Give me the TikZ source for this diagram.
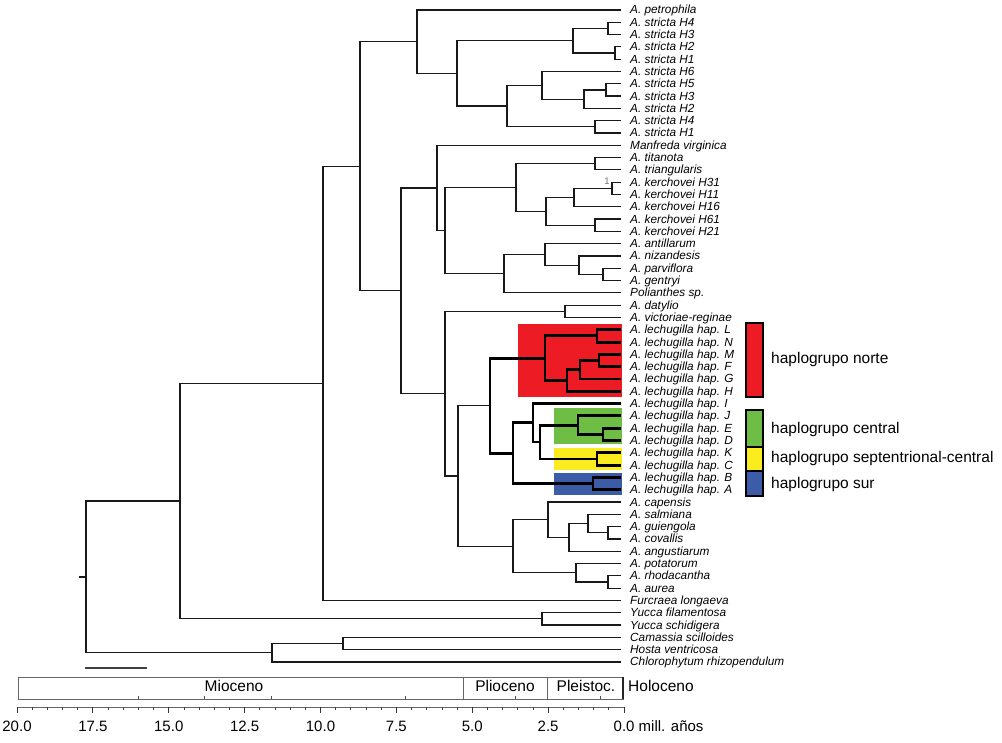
\documentclass[tikz,border=0pt]{standalone}
\usepackage{fontspec}
\setmainfont{Liberation Sans}
\definecolor{cred}{RGB}{237,28,36}
\definecolor{cgreen}{RGB}{110,190,70}
\definecolor{cyellow}{RGB}{250,236,30}
\definecolor{cblue}{RGB}{60,92,168}
\definecolor{linec}{RGB}{25,25,25}
\newcommand\leafnode[3]{\node[leaf] (#1) at (621,#2) {#3};}
\tikzset{
  br/.style={line width=1.2pt, draw=linec, line join=miter},
  thk/.style={line width=2.9pt, draw=black, line join=miter},
  leaf/.style={anchor=west, inner xsep=9pt, inner ysep=0pt, text height=8pt, text depth=0pt,
     font=\fontsize{11.8}{12}\selectfont\itshape},
  legtext/.style={anchor=west, inner sep=0pt, text height=11pt, text depth=0pt,
     font=\fontsize{15.5}{17}\selectfont},
  epoch/.style={anchor=base, inner sep=0pt, font=\fontsize{15.5}{17}\selectfont},
  ticklab/.style={anchor=base, inner sep=0pt, font=\fontsize{15}{17}\selectfont},
  legbox/.style={draw=black, line width=1.3pt}
}
\begin{document}
\begin{tikzpicture}[x=1pt,y=-1pt]
\useasboundingbox (0,0) rectangle (1002,743);
\fill[white] (0,0) rectangle (1002,743);
% coloured haplogroup backgrounds
\fill[cred] (518,324) rectangle (622,397);
\fill[cgreen] (554,408) rectangle (622,444);
\fill[cyellow] (554,448) rectangle (622,470);
\fill[cblue] (554,473) rectangle (622,495);
% leaves
\leafnode{L1}{10.0}{A. petrophila}
\leafnode{L2}{22.3}{A. stricta H4}
\leafnode{L3}{34.6}{A. stricta H3}
\leafnode{L4}{46.9}{A. stricta H2}
\leafnode{L5}{59.2}{A. stricta H1}
\leafnode{L6}{71.5}{A. stricta H6}
\leafnode{L7}{83.8}{A. stricta H5}
\leafnode{L8}{96.1}{A. stricta H3}
\leafnode{L9}{108.4}{A. stricta H2}
\leafnode{L10}{120.7}{A. stricta H4}
\leafnode{L11}{133.0}{A. stricta H1}
\leafnode{L12}{145.3}{Manfreda virginica}
\leafnode{L13}{157.6}{A. titanota}
\leafnode{L14}{169.9}{A. triangularis}
\leafnode{L15}{182.2}{A. kerchovei H31}
\leafnode{L16}{194.5}{A. kerchovei H11}
\leafnode{L17}{206.8}{A. kerchovei H16}
\leafnode{L18}{219.1}{A. kerchovei H61}
\leafnode{L19}{231.4}{A. kerchovei H21}
\leafnode{L20}{243.7}{A. antillarum}
\leafnode{L21}{256.0}{A. nizandesis}
\leafnode{L22}{268.3}{A. parviflora}
\leafnode{L23}{280.6}{A. gentryi}
\leafnode{L24}{292.9}{Polianthes sp.}
\leafnode{L25}{305.2}{A. datylio}
\leafnode{L26}{317.5}{A. victoriae-reginae}
\leafnode{L27}{329.8}{A. lechugilla hap. L}
\leafnode{L28}{342.1}{A. lechugilla hap. N}
\leafnode{L29}{354.4}{A. lechugilla hap. M}
\leafnode{L30}{366.7}{A. lechugilla hap. F}
\leafnode{L31}{379.0}{A. lechugilla hap. G}
\leafnode{L32}{391.3}{A. lechugilla hap. H}
\leafnode{L33}{403.6}{A. lechugilla hap. I}
\leafnode{L34}{415.9}{A. lechugilla hap. J}
\leafnode{L35}{428.2}{A. lechugilla hap. E}
\leafnode{L36}{440.5}{A. lechugilla hap. D}
\leafnode{L37}{452.8}{A. lechugilla hap. K}
\leafnode{L38}{465.1}{A. lechugilla hap. C}
\leafnode{L39}{477.4}{A. lechugilla hap. B}
\leafnode{L40}{489.7}{A. lechugilla hap. A}
\leafnode{L41}{502.0}{A. capensis}
\leafnode{L42}{514.3}{A. salmiana}
\leafnode{L43}{526.6}{A. guiengola}
\leafnode{L44}{538.9}{A. covallis}
\leafnode{L45}{551.2}{A. angustiarum}
\leafnode{L46}{563.5}{A. potatorum}
\leafnode{L47}{575.8}{A. rhodacantha}
\leafnode{L48}{588.1}{A. aurea}
\leafnode{L49}{600.4}{Furcraea longaeva}
\leafnode{L50}{612.7}{Yucca filamentosa}
\leafnode{L51}{625.0}{Yucca schidigera}
\leafnode{L52}{637.3}{Camassia scilloides}
\leafnode{L53}{649.6}{Hosta ventricosa}
\leafnode{L54}{661.9}{Chlorophytum rhizopendulum}
% internal nodes
\coordinate (sA) at (608,28.45);
\coordinate (sB) at (615,53.05);
\coordinate (sC) at (573,40.75);
\coordinate (sD) at (606,89.95);
\coordinate (sE) at (584,99.18);
\coordinate (sF) at (542,85.34);
\coordinate (sG) at (595,126.85);
\coordinate (sH) at (507,106.09);
\coordinate (sI) at (457,73.42);
\coordinate (pA) at (417,41.71);
\coordinate (tA) at (595,163.75);
\coordinate (kA) at (612,188.35);
\coordinate (kB) at (574,197.58);
\coordinate (kC) at (595,225.25);
\coordinate (kD) at (546,211.41);
\coordinate (tB) at (516,187.58);
\coordinate (aA) at (603,274.45);
\coordinate (aB) at (579,265.23);
\coordinate (aC) at (545,254.46);
\coordinate (aD) at (504,273.68);
\coordinate (mA) at (445,230.63);
\coordinate (mB) at (437,187.96);
\coordinate (dA) at (565,311.35);
\coordinate (lA) at (597,335.95);
\coordinate (lB) at (599,360.55);
\coordinate (lC) at (580,369.78);
\coordinate (lD) at (567,380.54);
\coordinate (lE) at (545,358.24);
\coordinate (lF) at (603,434.35);
\coordinate (lG) at (578,425.13);
\coordinate (lH) at (597,458.95);
\coordinate (lI) at (540,442.04);
\coordinate (lJ) at (533,422.82);
\coordinate (lK) at (593,483.55);
\coordinate (lL) at (513,453.19);
\coordinate (lM) at (490,405.71);
\coordinate (cA) at (608,532.75);
\coordinate (cB) at (588,523.53);
\coordinate (cC) at (569,537.36);
\coordinate (cD) at (548,519.68);
\coordinate (cE) at (608,581.95);
\coordinate (cF) at (576,572.73);
\coordinate (cG) at (513,546.2);
\coordinate (gA) at (458,475.96);
\coordinate (gB) at (445,393.66);
\coordinate (gC) at (401,290.81);
\coordinate (gD) at (360,166.26);
\coordinate (gE) at (323,383.33);
\coordinate (yA) at (542,618.85);
\coordinate (gF) at (180,501.09);
\coordinate (hA) at (343,643.45);
\coordinate (hB) at (272,652.68);
\coordinate (root) at (86,576.88);
\coordinate (stub) at (79,576.88);
% thin branches
\foreach \p/\c in {sA/L2,sA/L3,sB/L4,sB/L5,sC/sA,sC/sB,sD/L7,sD/L8,sE/sD,sE/L9,
  sF/L6,sF/sE,sG/L10,sG/L11,sH/sF,sH/sG,sI/sC,sI/sH,pA/L1,pA/sI,
  tA/L13,tA/L14,kA/L15,kA/L16,kB/kA,kB/L17,kC/L18,kC/L19,kD/kB,kD/kC,tB/tA,tB/kD,
  aA/L22,aA/L23,aB/L21,aB/aA,aC/L20,aC/aB,aD/aC,aD/L24,mA/tB,mA/aD,mB/L12,mB/mA,
  dA/L25,dA/L26,cA/L43,cA/L44,cB/L42,cB/cA,cC/cB,cC/L45,cD/L41,cD/cC,
  cE/L47,cE/L48,cF/L46,cF/cE,cG/cD,cG/cF,gA/lM,gA/cG,gB/dA,gB/gA,gC/mB,gC/gB,
  gD/pA,gD/gC,gE/gD,gE/L49,yA/L50,yA/L51,gF/gE,gF/yA,hA/L52,hA/L53,hB/hA,hB/L54,
  root/gF,root/hB}
  {\draw[br] (\p) |- (\c.west);}
\draw[br, line width=2pt] (stub) -- (root);
% thick lechugilla branches
\foreach \p/\c in {lA/L27,lA/L28,lB/L29,lB/L30,lC/lB,lC/L31,lD/lC,lD/L32,lE/lA,lE/lD,
  lF/L35,lF/L36,lG/L34,lG/lF,lH/L37,lH/L38,lI/lG,lI/lH,lJ/L33,lJ/lI,lK/L39,lK/L40,
  lL/lJ,lL/lK,lM/lE,lM/lL}
  {\draw[thk] (\p) |- (\c.west);}
% support value
\node[inner sep=0pt, text=black!55, font=\fontsize{9.5}{9.5}\selectfont] (sup1) at (607,181) {1};
% legend
\filldraw[legbox, fill=cred] (746,323) rectangle (763,397);
\filldraw[legbox, fill=cgreen] (746,410) rectangle (763,447);
\filldraw[legbox, fill=cyellow] (746,447) rectangle (763,471);
\filldraw[legbox, fill=cblue] (746,471) rectangle (763,496);
\node[legtext] (g1) at (771,358) {haplogrupo norte};
\node[legtext] (g2) at (771,428) {haplogrupo central};
\node[legtext] (g3) at (771,457) {haplogrupo septentrional-central};
\node[legtext] (g4) at (771,483) {haplogrupo sur};
% scale bar
\draw[line width=1.3pt, draw=black!75] (85,668) -- (147,668);
% epoch bar
\draw[line width=0.9pt, draw=black!60] (18,677) rectangle (623,699);
\draw[line width=0.9pt, draw=black!60] (463,677) -- (463,699);
\draw[line width=0.9pt, draw=black!60] (547,677) -- (547,699);
\draw[line width=1.6pt, draw=black!85] (623,677) -- (623,699);
\foreach \xx in {138,204,271,405,515,600}
  {\draw[line width=0.8pt, draw=black!70] (\xx,699) -- (\xx,695.5);}
\node[epoch] (e1) at (234,691) {Mioceno};
\node[epoch] (e2) at (505,691) {Plioceno};
\node[epoch] (e3) at (586,691) {Pleistoc.};
\node[epoch, anchor=base west] (e4) at (628,691) {Holoceno};
% time axis
\draw[line width=0.6pt, draw=black!60] (17,707) -- (624,707);
\foreach \i in {0,...,40}
  {\pgfmathsetmacro\xx{624-15.175*\i}
   \draw[line width=0.8pt, draw=black!75] (\xx,707) -- (\xx,710);}
\foreach \i/\lab in {5/2.5,10/5.0,15/7.5,20/10.0,25/12.5,30/15.0,35/17.5,40/20.0}
  {\pgfmathsetmacro\xx{624-15.175*\i}
   \draw[line width=0.9pt, draw=black!80] (\xx,707) -- (\xx,713);
   \node[ticklab] (tl\i) at (\xx,731) {\lab};}
\draw[line width=0.9pt, draw=black!80] (624,707) -- (624,713);
\node[ticklab, anchor=base west] (tl0) at (613.5,731) {0.0 mill. años};
\end{tikzpicture}
\end{document}
